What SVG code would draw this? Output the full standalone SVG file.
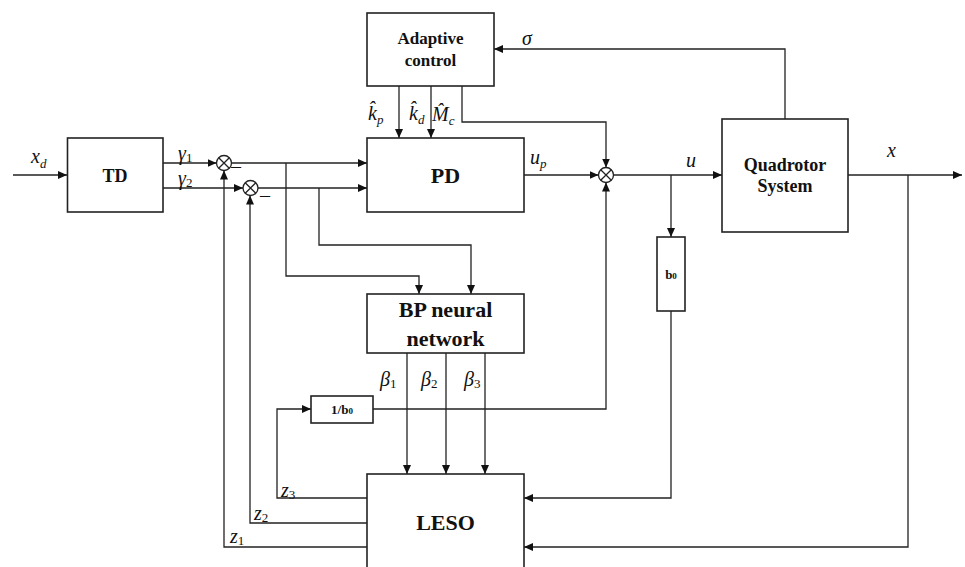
<svg xmlns="http://www.w3.org/2000/svg" width="965" height="567" viewBox="0 0 965 567">
<style>
.box{fill:#fff;stroke:#222;stroke-width:1.6}
.ln{fill:none;stroke:#222;stroke-width:1.3}
.bl{font-family:"Liberation Serif","Times New Roman",serif;font-weight:bold;fill:#111;text-anchor:middle}
.m{font-family:"Liberation Serif","Times New Roman",serif;font-style:italic;fill:#111;font-size:20px}
.s{font-size:13px}
.sn{font-family:"Liberation Serif","Times New Roman",serif;font-style:normal;fill:#111}
</style>
<defs>
<marker id="ar" markerUnits="userSpaceOnUse" markerWidth="10" markerHeight="8" refX="9" refY="4" orient="auto">
<path d="M0,0 L9,4 L0,8 Z" fill="#111"/>
</marker>
</defs>
<rect width="965" height="567" fill="#fff"/>
<g id="connectors" class="ln">
<path d="M13,175 H67" marker-end="url(#ar)"/>
<path d="M163,163 H216.5" marker-end="url(#ar)"/>
<path d="M163,188 H243" marker-end="url(#ar)"/>
<path d="M231.5,163 H367" marker-end="url(#ar)"/>
<path d="M258,188 H367" marker-end="url(#ar)"/>
<path d="M286,163 V276 H419 V294" marker-end="url(#ar)"/>
<path d="M319,188 V245 H471 V294" marker-end="url(#ar)"/>
<path d="M399,86 V138" marker-end="url(#ar)"/>
<path d="M431,86 V138" marker-end="url(#ar)"/>
<path d="M462,86 V122 H606 V167.5" marker-end="url(#ar)"/>
<path d="M524,175 H598.5" marker-end="url(#ar)"/>
<path d="M613.5,175 H722" marker-end="url(#ar)"/>
<path d="M785,119 V49 H494" marker-end="url(#ar)"/>
<path d="M848,175 H962" marker-end="url(#ar)"/>
<path d="M671,175 V237" marker-end="url(#ar)"/>
<path d="M671,311 V498 H524" marker-end="url(#ar)"/>
<path d="M908,175 V547 H524" marker-end="url(#ar)"/>
<path d="M373,409 H606 V182.5" marker-end="url(#ar)"/>
<path d="M367,498 H277 V409 H311" marker-end="url(#ar)"/>
<path d="M367,523 H250 V195.5" marker-end="url(#ar)"/>
<path d="M367,547 H224 V170.5" marker-end="url(#ar)"/>
<path d="M407,353 V474" marker-end="url(#ar)"/>
<path d="M446,353 V474" marker-end="url(#ar)"/>
<path d="M485,353 V474" marker-end="url(#ar)"/>
</g>
<g id="TD"><rect class="box" x="67.5" y="138" width="95.5" height="74"/><text class="bl" x="115" y="181.5" font-size="18">TD</text></g>
<g id="adaptive"><rect class="box" x="367" y="13" width="127" height="73"/><text class="bl" x="430.5" y="44" font-size="17">Adaptive</text><text class="bl" x="430.5" y="66" font-size="17">control</text></g>
<g id="PD"><rect class="box" x="367" y="138" width="157" height="74"/><text class="bl" x="445.5" y="183" font-size="22">PD</text></g>
<g id="quadrotor"><rect class="box" x="722" y="119" width="126" height="113"/><text class="bl" x="785" y="171" font-size="18">Quadrotor</text><text class="bl" x="785" y="192" font-size="18">System</text></g>
<g id="BP"><rect class="box" x="367" y="294" width="157" height="59"/><text class="bl" x="445.5" y="317" font-size="22">BP neural</text><text class="bl" x="445.5" y="346" font-size="22">network</text></g>
<g id="LESO"><rect class="box" x="367" y="474" width="157" height="100"/><text class="bl" x="445.5" y="530" font-size="22">LESO</text></g>
<g id="b0"><rect class="box" x="657" y="237" width="28" height="74"/><text class="bl" x="671" y="279" font-size="13">b<tspan font-size="9">0</tspan></text></g>
<g id="inv_b0"><rect class="box" x="311" y="396" width="62" height="27"/><text class="bl" x="342" y="414" font-size="13">1/b<tspan font-size="9">0</tspan></text></g>
<g id="sum1" class="ln"><circle cx="224" cy="163" r="7.5" fill="#fff"/><path d="M218.7,157.7 L229.3,168.3 M229.3,157.7 L218.7,168.3"/></g>
<g id="sum2" class="ln"><circle cx="250.5" cy="188" r="7.5" fill="#fff"/><path d="M245.2,182.7 L255.8,193.3 M255.8,182.7 L245.2,193.3"/></g>
<g id="sum3" class="ln"><circle cx="606" cy="175" r="7.5" fill="#fff"/><path d="M600.7,169.7 L611.3,180.3 M611.3,169.7 L600.7,180.3"/></g>
<g id="labels">
<text class="m" x="31" y="163">x<tspan class="s" dy="5">d</tspan></text>
<text class="m" x="178" y="160">γ<tspan class="s sn" dy="2">1</tspan></text>
<text class="m" x="178" y="185">γ<tspan class="s sn" dy="2">2</tspan></text>
<text class="sn" x="231" y="173" font-size="20">–</text>
<text class="sn" x="260" y="202" font-size="20">–</text>
<text class="m" x="522" y="45" font-size="22">σ</text>
<text class="m" x="368" y="120">k̂<tspan class="s" dy="4">p</tspan></text>
<text class="m" x="409" y="120">k̂<tspan class="s" dy="4">d</tspan></text>
<text class="m" x="432" y="121">M̂<tspan class="s" dy="4">c</tspan></text>
<text class="m" x="530" y="164">u<tspan class="s" dy="4">p</tspan></text>
<text class="m" x="686" y="167">u</text>
<text class="m" x="887" y="157">x</text>
<text class="m" x="380" y="386">β<tspan class="s sn" dy="2">1</tspan></text>
<text class="m" x="421" y="386">β<tspan class="s sn" dy="2">2</tspan></text>
<text class="m" x="464" y="386">β<tspan class="s sn" dy="2">3</tspan></text>
<text class="m" x="281" y="497">z<tspan class="s sn" dy="2">3</tspan></text>
<text class="m" x="254" y="520">z<tspan class="s sn" dy="2">2</tspan></text>
<text class="m" x="230" y="543">z<tspan class="s sn" dy="2">1</tspan></text>
</g>
</svg>
